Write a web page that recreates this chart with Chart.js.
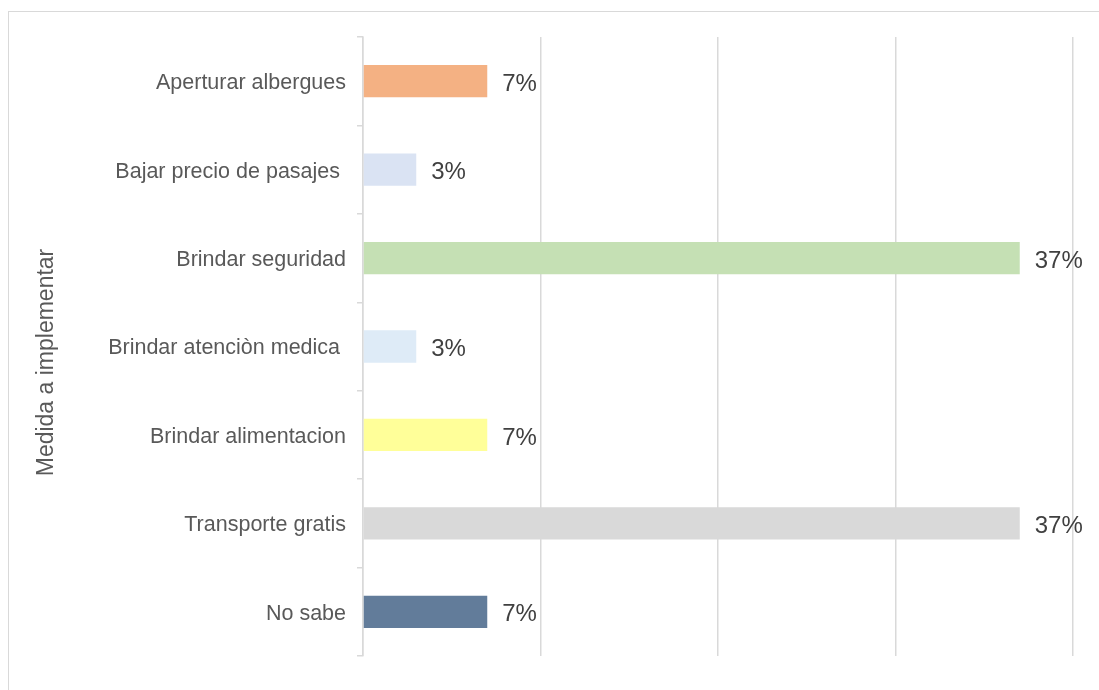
<!DOCTYPE html>
<html>
<head>
<meta charset="utf-8">
<script src="https://cdn.jsdelivr.net/npm/chart.js@4"></script>
<style>
  html, body { margin: 0; padding: 0; background: #fff; }
  #frame {
    position: absolute; left: 8px; top: 11px; width: 1200px; height: 800px;
    border: 1px solid #d9d9d9; box-sizing: border-box;
  }
  #wrap { position: absolute; left: 0; top: 0; width: 1099px; height: 690px; }
</style>
</head>
<body>
<div id="frame"></div>
<div id="wrap"><canvas id="barChart"></canvas></div>
<script>
// categories, top to bottom
const categories = [
    'Aperturar albergues',
    'Bajar precio de pasajes ',
    'Brindar seguridad',
    'Brindar atenciòn medica ',
    'Brindar alimentacion',
    'Transporte gratis',
    'No sabe'
];
const percentages = [7, 3, 37, 3, 7, 37, 7];
const barColors = ['#F4B183', '#DAE3F3', '#C5E0B4', '#DEEBF7', '#FFFF99', '#D9D9D9', '#627C9A'];
const axisTitle = 'Medida a implementar';
const xTicks = [0, 10, 20, 30, 40];

const FONT = '"Liberation Sans", Arial, sans-serif';

// draws "7%" etc. to the right of each bar
const valueLabels = {
    id: 'valueLabels',
    afterDatasetsDraw(chart) {
        const ctx = chart.ctx;
        const meta = chart.getDatasetMeta(0);
        ctx.save();
        ctx.font = '24px ' + FONT;
        ctx.fillStyle = '#404040';
        ctx.textAlign = 'left';
        ctx.textBaseline = 'middle';
        meta.data.forEach((bar, i) => {
            ctx.fillText(percentages[i] + '%', bar.x + 15, bar.y + 3);
        });
        ctx.restore();
    }
};

// vertical axis title, sits a little below the middle like in the original
const sideTitle = {
    id: 'sideTitle',
    afterDraw(chart) {
        const { ctx, chartArea } = chart;
        const cy = (chartArea.top + chartArea.bottom) / 2 + 16;
        ctx.save();
        ctx.translate(47, cy);
        ctx.rotate(-Math.PI / 2);
        ctx.font = '23px ' + FONT;
        ctx.fillStyle = '#595959';
        ctx.textAlign = 'center';
        ctx.textBaseline = 'middle';
        ctx.fillText(axisTitle, 0, 0);
        ctx.restore();
    }
};

const ctx = document.getElementById('barChart').getContext('2d');
new Chart(ctx, {
    type: 'bar',
    data: {
        labels: categories,
        datasets: [{
            data: percentages,
            backgroundColor: barColors,
            borderWidth: 0,
            barPercentage: 0.73,
            categoryPercentage: 0.5
        }]
    },
    options: {
        indexAxis: 'y',
        responsive: true,
        maintainAspectRatio: false,
        animation: false,
        layout: { padding: { left: 0, right: 26, top: 37, bottom: 34 } },
        scales: {
            x: {
                min: 0,
                max: 40,
                afterBuildTicks: (scale) => { scale.ticks = xTicks.map(v => ({ value: v })); },
                ticks: { display: false },
                grid: { color: '#d9d9d9', lineWidth: 1.5, drawTicks: false },
                border: { display: false }
            },
            y: {
                afterFit: (scale) => { scale.width = 363; },
                ticks: {
                    color: '#595959',
                    font: { family: FONT, size: 21.5 },
                    padding: 11,
                    labelOffset: 2
                },
                grid: { drawOnChartArea: false, drawTicks: true, tickLength: 6, color: '#d9d9d9', lineWidth: 1.5 },
                border: { display: true, color: '#d9d9d9', width: 1.5 }
            }
        },
        plugins: {
            legend: { display: false },
            tooltip: { enabled: false }
        }
    },
    plugins: [valueLabels, sideTitle]
});
</script>
</body>
</html>
